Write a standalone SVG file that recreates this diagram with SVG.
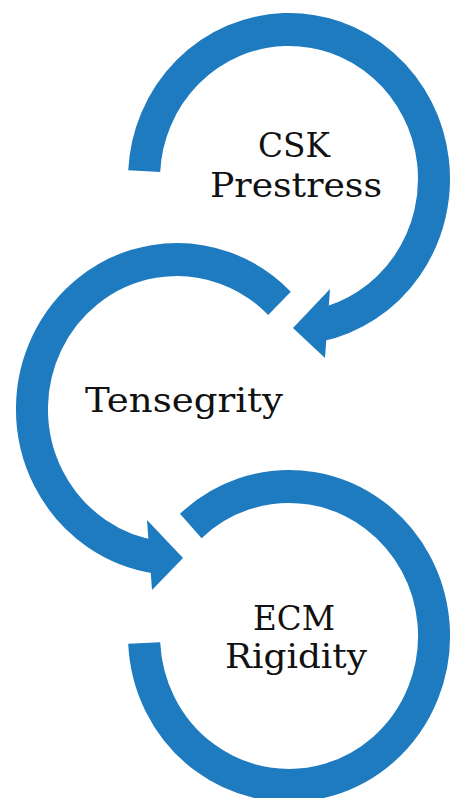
<svg xmlns="http://www.w3.org/2000/svg" width="451" height="798" viewBox="0 0 451 798">
  <style>
    .ring { fill: none; stroke: #1f7bbf; stroke-width: 32; stroke-linecap: butt; }
    .head { fill: #1f7bbf; stroke: none; }
    .lbl { font-family: "DejaVu Serif", "Liberation Serif", serif; font-size: 33px; fill: #111; text-anchor: middle; }
  </style>
  <rect width="451" height="798" fill="#ffffff"/>
  <g id="connectors">
    <g id="ring-csk" transform="translate(289,179) scale(1,1.031)">
      <path class="ring" d="M -144.8 -7.6 A 145 145 0 1 1 30.1 141.8"/>
    </g>
    <polygon class="head" points="330,289 325,358 293,328"/>
    <g id="ring-tensegrity" transform="translate(177,409) scale(1,1.031)">
      <path class="ring" d="M 102.5 -102.5 A 145 145 0 1 0 -20.2 143.6"/>
    </g>
    <polygon class="head" points="147,520 152,590 183,558"/>
    <g id="ring-ecm" transform="translate(289,636) scale(1,1.031)">
      <path class="ring" d="M -98.2 -106.7 A 145 145 0 1 1 -144.8 6.8"/>
    </g>
  </g>
  <g id="node-csk">
    <text class="lbl" x="294" y="157" textLength="72" lengthAdjust="spacingAndGlyphs">CSK</text>
    <text class="lbl" x="296" y="197" textLength="172" lengthAdjust="spacingAndGlyphs">Prestress</text>
  </g>
  <g id="node-tensegrity">
    <text class="lbl" x="184" y="412" textLength="198" lengthAdjust="spacingAndGlyphs">Tensegrity</text>
  </g>
  <g id="node-ecm">
    <text class="lbl" x="294" y="630" textLength="82" lengthAdjust="spacingAndGlyphs">ECM</text>
    <text class="lbl" x="296" y="668" textLength="142" lengthAdjust="spacingAndGlyphs">Rigidity</text>
  </g>
</svg>
